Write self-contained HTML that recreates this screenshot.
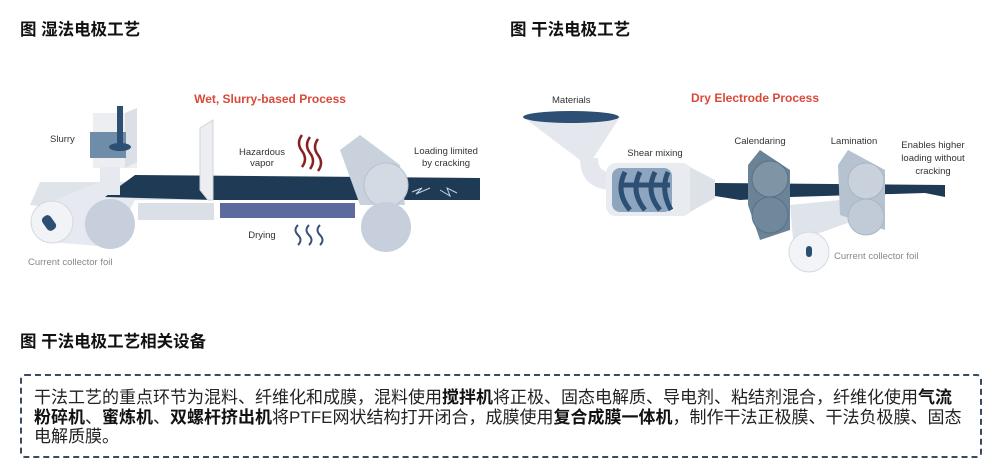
<!DOCTYPE html>
<html><head><meta charset="utf-8"><style>
html,body{margin:0;padding:0;background:#fff;width:996px;height:476px;overflow:hidden;position:relative;font-family:"Liberation Sans","Noto Sans CJK SC",sans-serif}
.h{position:absolute;font-size:16.5px;font-weight:bold;color:#111;font-family:"Liberation Sans","Noto Sans CJK SC",sans-serif}
.box{position:absolute;left:20px;top:374px;width:962px;height:84px;border:2px dashed #3a4a60;border-radius:5px;box-sizing:border-box}
.txt{position:absolute;left:34px;top:388px;width:950px;font-size:17px;line-height:19.5px;color:#222;white-space:nowrap;font-family:"Liberation Sans","Noto Sans CJK SC",sans-serif}
.txt b{color:#111}
svg{position:absolute;left:0;top:0}
</style></head><body>
<div class="h" style="left:20px;top:16px">图 湿法电极工艺</div>
<div class="h" style="left:510px;top:16px">图 干法电极工艺</div>
<div class="h" style="left:20px;top:328px">图 干法电极工艺相关设备</div>
<svg width="996" height="300" viewBox="0 0 996 300" font-family="Liberation Sans, sans-serif">
<text x="270" y="103" font-size="12" font-weight="bold" fill="#d9493a" text-anchor="middle">Wet, Slurry-based Process</text>
<polygon points="30,205 40,182 480,182 480,200 130,200 120,215" fill="#dfe3ea"/>
<polygon points="50,202 100,182 135,200 110,247 50,242" fill="#e6e9ef"/>
<circle cx="52" cy="222" r="21" fill="#f2f3f6" stroke="#d4d9e1"/>
<rect x="44" y="215" width="10" height="16" rx="4" fill="#2c4f73" transform="rotate(-35 49 223)"/>
<circle cx="110" cy="224" r="25" fill="#c6cfdb"/>
<rect x="138" y="203" width="76" height="17" fill="#dbe0e8"/>
<rect x="220" y="203" width="135" height="15" fill="#5b6b9e"/>
<polygon points="105,197 135,175 480,178 480,200 215,200" fill="#1f3a55"/>
<polygon points="405,185 480,185 480,200 400,200" fill="#1f3a55"/>
<path d="M412,192 l10,-4 l-6,6 l14,-6 M440,190 l10,6 l-3,-8 l10,5" stroke="#c9d3df" fill="none" stroke-width="1"/>
<rect x="93" y="113" width="44" height="55" fill="#eceef2"/>
<polygon points="125,113 137,108 137,162 125,168" fill="#dcdfe6"/>
<rect x="90" y="132" width="36" height="26" fill="#6f8ca8"/>
<rect x="117" y="106" width="6" height="38" fill="#2c4f73"/>
<ellipse cx="120" cy="147" rx="11" ry="4" fill="#2c4f73"/>
<rect x="100" y="167" width="20" height="28" fill="#e6e9ef"/>
<polygon points="200,128 213,120 213,200 208,200 200,190" fill="#eceef2" stroke="#cfd4dc"/>
<polygon points="340,150 360,135 400,165 405,205 360,205" fill="#c9d1dc"/>
<circle cx="386" cy="185" r="22" fill="#d3dae4" stroke="#b8c2cf"/>
<circle cx="386" cy="227" r="25" fill="#c6cfdb"/>
<path d="M302,135 q-6,8 0,16 q6,8 0,16 M310,137 q-6,8 0,16 q6,8 0,16 M318,139 q-6,8 0,16 q6,8 0,16" stroke="#8a1f1f" stroke-width="2.5" fill="none"/>
<path d="M298,225 q-5,5 0,10 q5,5 0,10 M309,225 q-5,5 0,10 q5,5 0,10 M320,225 q-5,5 0,10 q5,5 0,10" stroke="#3b4f78" stroke-width="2" fill="none"/>
<text font-size="9.5" fill="#333" x="262" y="155" text-anchor="middle">Hazardous</text>
<text font-size="9.5" fill="#333" x="262" y="166" text-anchor="middle">vapor</text>
<text font-size="9.5" fill="#333" x="262" y="238" text-anchor="middle">Drying</text>
<text font-size="9.5" fill="#333" x="50" y="142">Slurry</text>
<text font-size="9.5" fill="#333" x="446" y="154" text-anchor="middle">Loading limited</text>
<text font-size="9.5" fill="#333" x="446" y="166" text-anchor="middle">by cracking</text>
<text font-size="9.5" fill="#888" x="28" y="265">Current collector foil</text>
<text x="755" y="102" font-size="12" font-weight="bold" fill="#d9493a" text-anchor="middle">Dry Electrode Process</text>
<text font-size="9.5" fill="#333" x="552" y="103">Materials</text>
<polygon points="523,117 620,117 592,160 580,160" fill="#e4e8ee"/>
<ellipse cx="571" cy="117" rx="48" ry="6" fill="#2c4f73"/>
<path d="M580,158 q0,30 30,32 l0,-18 q-12,0 -12,-14z" fill="#e4e8ee"/>
<rect x="606" y="163" width="86" height="53" rx="10" fill="#e8ebf0"/>
<rect x="612" y="168" width="60" height="44" rx="8" fill="#8ea5bf"/>
<path d="M620,185 h50 M625,172 q-10,20 5,38 M640,172 q-10,20 5,38 M655,172 q-10,20 5,38 M668,172 q-8,18 3,38" stroke="#2c4f73" stroke-width="5" fill="none"/>
<polygon points="690,167 715,180 715,198 690,212" fill="#dde2e9"/>
<polygon points="715,183 945,185 945,197 925,193 790,197 740,200 715,196" fill="#1f3a55"/>
<polygon points="790,205 860,198 870,215 800,240 795,262" fill="#dfe3ea"/>
<polygon points="748,165 760,150 790,170 790,230 760,240 748,205" fill="#6a8397"/>
<circle cx="770" cy="179" r="18" fill="#7f95a6" stroke="#5a7183"/>
<circle cx="770" cy="215" r="18" fill="#6f889b" stroke="#5a7183"/>
<polygon points="838,165 848,150 885,170 885,230 840,215" fill="#b6c2d0"/>
<circle cx="866" cy="181" r="18" fill="#c8d1dc" stroke="#aab6c5"/>
<circle cx="866" cy="217" r="18" fill="#c1cbd7" stroke="#aab6c5"/>
<circle cx="809" cy="252" r="20" fill="#f3f4f7" stroke="#d4d9e1"/>
<rect x="806" y="246" width="6" height="11" rx="3" fill="#2c4f73"/>
<text font-size="9.5" fill="#333" x="655" y="156" text-anchor="middle">Shear mixing</text>
<text font-size="9.5" fill="#333" x="760" y="144" text-anchor="middle">Calendaring</text>
<text font-size="9.5" fill="#333" x="854" y="144" text-anchor="middle">Lamination</text>
<text font-size="9.5" fill="#333" x="933" y="148" text-anchor="middle">Enables higher</text>
<text font-size="9.5" fill="#333" x="933" y="161" text-anchor="middle">loading without</text>
<text font-size="9.5" fill="#333" x="933" y="174" text-anchor="middle">cracking</text>
<text font-size="9.5" fill="#888" x="834" y="259">Current collector foil</text>
</svg>
<div class="box"></div>
<div class="txt">干法工艺的重点环节为混料、纤维化和成膜，混料使用<b>搅拌机</b>将正极、固态电解质、导电剂、粘结剂混合，纤维化使用<b>气流</b><br><b>粉碎机</b>、<b>蜜炼机</b>、<b>双螺杆挤出机</b>将PTFE网状结构打开闭合，成膜使用<b>复合成膜一体机</b>，制作干法正极膜、干法负极膜、固态<br>电解质膜。</div>
</body></html>
